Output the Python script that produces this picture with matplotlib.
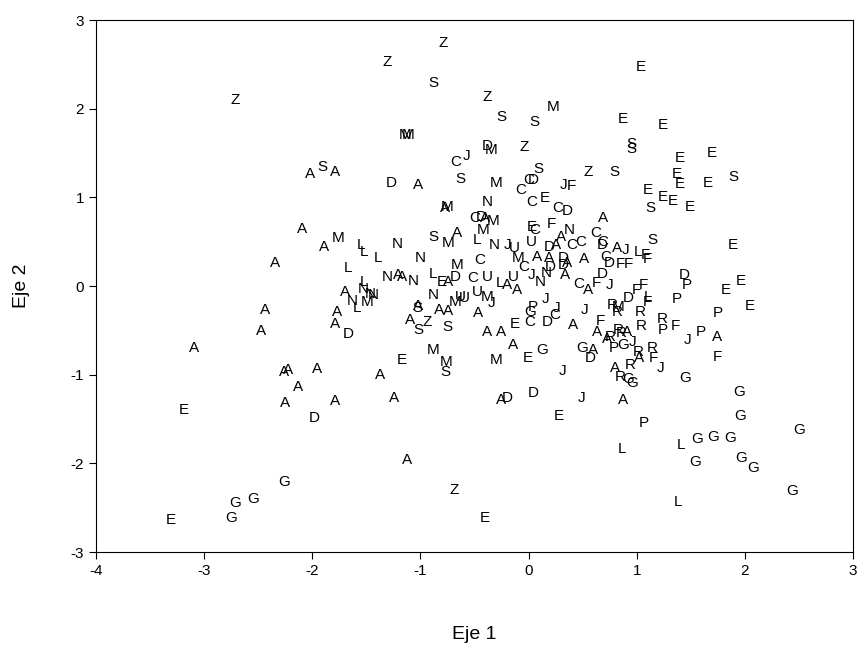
import matplotlib
matplotlib.use("Agg")
import matplotlib.pyplot as plt

plt.rcParams['font.family'] = ['Liberation Sans', 'DejaVu Sans']
plt.rcParams['axes.unicode_minus'] = False

# letter labels, one string per group of points (same order as the scores below)
labels = "".join([
    "ZZSZZSSMEEEMMDMZ",
    "SSCJSASADAMSCDZS",
    "JFCEEEEEESEEESCECD",
    "NADAMMCMAECFNCCD",
    "SADACCLNJUU",
    "AJLFFCDFFADAAAMCC",
    "DDJNNADUULAACAFJU",
    "MJFFDLFJPGJCDECJR",
    "MRRRAAFRPAAARARAAR",
    "GPJGGAD",
    "EMRRAFJJARRGG",
    "AMALLLNSMANMLNA",
    "ANLEADCLANNNNLM",
    "NMUUAADSAAAAZSS",
    "MEMSAAAAAAAAAAA",
    "DAAZEGGGGEEADDJ",
    "AEPLGGGGLGGGGGGGL",
    "EDPPEEEPFJPAF",
])

eje1 = [
    -0.79, -1.31, -0.88, -2.71, -0.38, -0.25, 0.05, 0.23, 1.04, 0.87, 1.24, -1.14, -1.11, -0.38, -0.35, -0.04,
    0.95, 0.95, -0.67, -0.57, -0.63, -2.02, -1.91, -1.79, -1.27, -1.02, -0.30, 0.09, 0.00, 0.04, 0.55, 0.79,
    0.32, 0.40, -0.07, 1.10, 1.40, 1.69, 1.37, 1.40, 1.66, 1.89, 1.24, 1.33, 1.49, 1.13, 0.03, 0.15, 0.27, 0.36,
    -0.38, 0.69, -0.44, -0.40, -0.33, -0.42, -0.50, -0.75, -0.77, 0.03, 0.06, 0.21, 0.38, 0.62, 0.69, 0.68,
    1.15, 0.30, 0.19, 0.25, 0.40, 0.48, -0.48, -0.32, -0.19, -0.13, 0.03,
    0.82, 0.90, 1.01, 1.08, 1.10, 0.71, 0.75, 0.85, 0.92, 0.51, 0.32, 0.36, 0.08, 0.19, -0.10, -0.45, -0.04,
    0.20, 0.32, 0.03, 0.16, 0.11, 0.34, 0.68, -0.38, -0.14, -0.26, -0.20, -0.11, 0.46, 0.55, 0.63, 0.75, -0.47,
    -0.38, -0.34, 1.06, 1.00, 0.92, 1.10, 1.10, 0.16, 0.04, 0.01, 0.26, 0.24, 0.17, -0.13, 0.01, 0.52, 0.77,
    0.83, 0.82, 1.03, 1.24, -0.47, 0.41, 0.66, 1.04, 1.24, -0.38, -0.25, 0.63, 0.83, 0.91, 0.86, -0.14, 0.73, 0.76,
    0.87, 0.79, 0.96, 0.13, 0.50, 0.60, 0.57,
    -0.01, -0.30, 1.14, 1.01, 1.02, 1.15, 1.22, 0.31, 0.80, 0.94, 0.85, 0.92, 0.96,
    -2.09, -1.76, -1.89, -1.55, -1.52, -1.39, -1.21, -0.88, -0.74, -0.66, -1.00, -0.66, -1.67, -1.31, -1.21,
    -1.17, -1.07, -0.88, -0.80, -0.74, -0.68, -0.52, -1.52, -1.70, -1.53, -1.46, -1.44, -1.63, -1.59, -1.49,
    -0.88, -0.68, -0.63, -0.59, -1.77, -1.79, -1.67, -1.03, -1.02, -0.83, -0.74, -1.10, -0.94, -1.02, -0.75,
    -0.88, -1.17, -0.76, -0.77, -1.96, -1.37, -2.26, -2.22, -2.34, -2.44, -2.47, -3.09, -2.13, -2.25, -1.79,
    -1.98, -1.24, -1.12, -0.69, -3.19, -2.26, -2.71, -2.55, -2.75, -3.31, -0.40, -0.25, -0.20, 0.04, 0.49,
    0.87, 0.28, 1.07, 0.86, 1.45, 1.95, 1.96, 2.50, 1.41, 1.56, 1.71, 1.86, 1.54, 1.97, 2.08, 2.44, 1.38,
    1.89, 1.44, 1.46, 1.37, 1.82, 1.96, 2.05, 1.75, 1.36, 1.47, 1.59, 1.74, 1.75,
]

eje2 = [
    2.74, 2.53, 2.29, 2.10, 2.13, 1.91, 1.85, 2.02, 2.47, 1.88, 1.82, 1.70, 1.70, 1.58, 1.53, 1.57,
    1.60, 1.55, 1.40, 1.47, 1.21, 1.26, 1.34, 1.29, 1.16, 1.14, 1.16, 1.32, 1.20, 1.20, 1.29, 1.29,
    1.14, 1.13, 1.08, 1.08, 1.44, 1.50, 1.26, 1.15, 1.16, 1.23, 1.00, 0.96, 0.89, 0.88, 0.95, 0.99, 0.88, 0.85,
    0.95, 0.77, 0.78, 0.77, 0.73, 0.63, 0.77, 0.89, 0.88, 0.67, 0.63, 0.70, 0.63, 0.60, 0.50, 0.46,
    0.52, 0.55, 0.44, 0.46, 0.46, 0.50, 0.52, 0.46, 0.46, 0.43, 0.50,
    0.43, 0.41, 0.38, 0.35, 0.30, 0.33, 0.26, 0.25, 0.25, 0.30, 0.32, 0.26, 0.33, 0.32, 0.32, 0.29, 0.21,
    0.21, 0.24, 0.12, 0.15, 0.05, 0.12, 0.14, 0.10, 0.10, 0.03, 0.01, -0.05, 0.02, -0.05, 0.03, 0.01, -0.07,
    -0.12, -0.19, 0.01, -0.05, -0.14, -0.12, -0.18, -0.15, -0.24, -0.29, -0.25, -0.33, -0.41, -0.43, -0.41, -0.27, -0.21,
    -0.24, -0.29, -0.29, -0.37, -0.30, -0.44, -0.39, -0.45, -0.50, -0.52, -0.52, -0.52, -0.50, -0.52, -0.53, -0.67, -0.60, -0.58,
    -0.67, -0.70, -0.63, -0.72, -0.70, -0.72, -0.81,
    -0.81, -0.83, -0.70, -0.74, -0.81, -0.81, -0.92, -0.96, -0.92, -0.89, -1.03, -1.05, -1.09,
    0.64, 0.54, 0.44, 0.46, 0.38, 0.32, 0.47, 0.55, 0.48, 0.60, 0.32, 0.24, 0.20, 0.10, 0.12,
    0.10, 0.06, 0.14, 0.05, 0.05, 0.10, 0.09, 0.05, -0.07, -0.03, -0.09, -0.10, -0.17, -0.25, -0.18,
    -0.10, -0.18, -0.12, -0.14, -0.29, -0.43, -0.54, -0.25, -0.23, -0.27, -0.28, -0.38, -0.41, -0.50, -0.46,
    -0.72, -0.83, -0.86, -0.97, -0.94, -1.00, -0.97, -0.95, 0.26, -0.27, -0.51, -0.70, -1.14, -1.32, -1.30,
    -1.49, -1.26, -1.96, -2.30, -1.40, -2.21, -2.45, -2.40, -2.62, -2.64, -2.62, -1.29, -1.26, -1.21, -1.26,
    -1.29, -1.47, -1.55, -1.84, -1.04, -1.20, -1.47, -1.62, -1.79, -1.73, -1.70, -1.71, -1.98, -1.94, -2.05, -2.31, -2.44,
    0.46, 0.12, 0.01, -0.15, -0.05, 0.06, -0.23, -0.30, -0.45, -0.61, -0.52, -0.58, -0.80,
]

fig = plt.figure(figsize=(8.63, 6.46), dpi=100)
ax = fig.add_axes([0.1112, 0.1455, 0.8772, 0.8235])

for letra, x, y in zip(labels, eje1, eje2):
    ax.text(x, y, letra, ha='center', va='center', fontsize=11)

ax.set_xlim(-4, 3)
ax.set_ylim(-3, 3)
ax.set_xticks(range(-4, 4))
ax.set_yticks(range(-3, 4))
ax.tick_params(direction='out', length=5, labelsize=11, top=False, right=False)
ax.set_xlabel("Eje 1", fontsize=14, labelpad=35)
ax.set_ylabel("Eje 2", fontsize=14, labelpad=29)

plt.savefig("out.png", dpi=100)
